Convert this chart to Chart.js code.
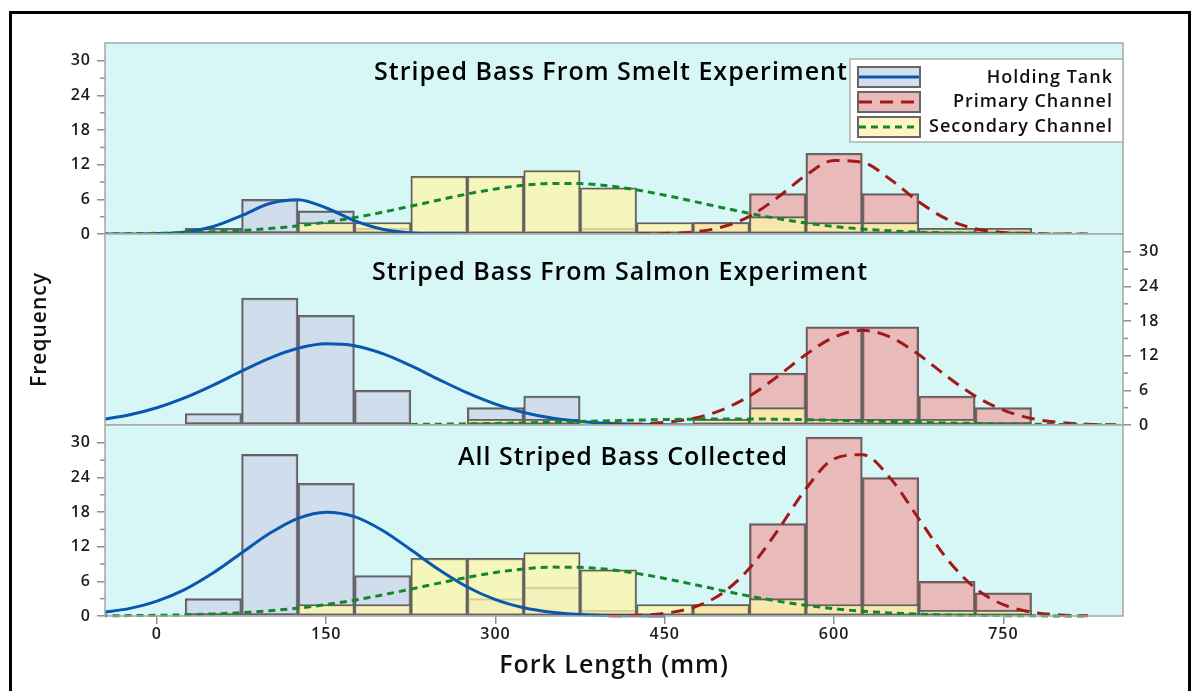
<!DOCTYPE html>
<html lang="en">
<head>
<meta charset="UTF-8">
<title>Striped Bass Fork Length</title>
<script src="https://cdn.jsdelivr.net/npm/chart.js"></script>
<style>
  body { margin: 0; background: #fff; width: 1200px; height: 691px; overflow: hidden; position: relative; }
  .frame { position: absolute; left: 9px; top: 11px; width: 1176px; height: 720px; border: 3px solid #000; border-bottom: none; }
  .panel { position: absolute; left: 0; }
</style>
</head>
<body>
<div class="frame"></div>
<canvas id="smeltChart" class="panel" width="1200" height="221" style="top:23px"></canvas>
<canvas id="salmonChart" class="panel" width="1200" height="211" style="top:224px"></canvas>
<canvas id="allChart" class="panel" width="1200" height="276" style="top:415px"></canvas>
<script>
// histogram bins (mm), 50 mm wide
var binCenters = [50, 100, 150, 200, 250, 300, 350, 400, 450, 500, 550, 600, 650, 700, 750];

var smeltHolding   = [1, 6, 4, 1, 0, 0, 0, 0, 0, 0, 0, 0, 0, 0, 0];
var smeltPrimary   = [0, 0, 0, 0, 0, 0, 0, 1, 0, 2, 7, 14, 7, 1, 1];
var smeltSecondary = [0, 0, 2, 2, 10, 10, 11, 8, 2, 2, 3, 2, 2, 1, 1];

var salmonHolding   = [2, 22, 19, 6, 0, 3, 5, 0, 0, 0, 0, 0, 0, 0, 0];
var salmonPrimary   = [0, 0, 0, 0, 0, 0, 0, 0, 0, 0, 9, 17, 17, 5, 3];
var salmonSecondary = [0, 0, 0, 0, 0, 1, 1, 0, 0, 1, 3, 1, 1, 1, 0];

var allHolding   = [3, 28, 23, 7, 0, 3, 5, 0, 0, 0, 0, 0, 0, 0, 0];
var allPrimary   = [0, 0, 0, 0, 0, 0, 0, 1, 0, 2, 16, 31, 24, 6, 4];
var allSecondary = [0, 0, 2, 2, 10, 10, 11, 8, 2, 2, 3, 2, 2, 1, 1];

// fitted curves, every 25 mm
var curveX = [-50, -25, 0, 25, 50, 75, 100, 125, 150, 175, 200, 225, 250, 275, 300, 325, 350, 375, 400,
              425, 450, 475, 500, 525, 550, 575, 600, 625, 650, 675, 700, 725, 750, 775, 800, 825, 850];

var smeltHoldingFit = [0, 0.01, 0.07, 0.36, 1.29, 3.18, 5.28, 5.93, 4.51, 2.32, 0.81, 0.19, 0.03, 0,
  null, null, null, null, null, null, null, null, null, null, null, null, null, null, null, null, null, null, null, null, null, null, null];
var smeltPrimaryFit = [null, null, null, null, null, null, null, null, null, null, null, null, null, null, null, null, null, null, null,
  0.01, 0.08, 0.34, 1.16, 3.06, 6.33, 10.18, 12.74, 12.43, 9.44, 5.58, 2.57, 0.92, 0.26, 0.06, 0.01, 0, null];
var smeltSecondaryFit = [0.03, 0.07, 0.12, 0.22, 0.37, 0.60, 0.94, 1.42, 2.05, 2.84, 3.78, 4.82, 5.90, 6.93, 7.81, 8.45, 8.77, 8.73, 8.35,
  7.65, 6.73, 5.68, 4.60, 3.58, 2.67, 1.91, 1.31, 0.86, 0.55, 0.33, 0.19, 0.11, 0.06, 0.03, 0.01, 0, null];

var salmonHoldingFit = [0.93, 1.74, 2.99, 4.74, 6.92, 9.33, 11.6, 13.3, 14.08, 13.74, 12.37, 10.28, 7.87, 5.56, 3.63, 2.18, 1.21, 0.62, 0.29,
  0.13, 0.05, 0, null, null, null, null, null, null, null, null, null, null, null, null, null, null, null];
var salmonPrimaryFit = [null, null, null, null, null, null, null, null, null, null, null, null, null, null, null, null, null, null, 0.04,
  0.14, 0.44, 1.14, 2.58, 5.02, 8.43, 12.2, 15.23, 16.4, 15.23, 12.2, 8.43, 5.02, 2.58, 1.14, 0.44, 0.14, 0.04];
var salmonSecondaryFit = [null, null, null, null, null, null, null, null, null, null, null, 0.1, 0.14, 0.2, 0.28, 0.38, 0.49, 0.61, 0.73,
  0.85, 0.94, 1.01, 1.05, 1.04, 1.0, 0.93, 0.83, 0.71, 0.59, 0.47, 0.36, 0.27, 0.19, 0.13, 0.09, 0.05, 0.03];

var allHoldingFit = [0.58, 1.28, 2.57, 4.62, 7.48, 10.92, 14.33, 16.93, 17.99, 17.22, 14.82, 11.48, 8.01, 5.03, 2.84, 1.44, 0.66, 0.27, 0.10,
  0.03, 0, null, null, null, null, null, null, null, null, null, null, null, null, null, null, null, null];
var allPrimaryFit = [null, null, null, null, null, null, null, null, null, null, null, null, null, null, null, null, null, null, 0.03,
  0.12, 0.47, 1.47, 3.83, 8.26, 14.81, 22.04, 27.24, 27.96, 23.83, 16.87, 9.92, 4.85, 1.96, 0.66, 0.18, 0.04, null];
var allSecondaryFit = [0.03, 0.07, 0.12, 0.21, 0.36, 0.58, 0.91, 1.37, 1.98, 2.74, 3.65, 4.66, 5.70, 6.69, 7.54, 8.16, 8.47, 8.43, 8.07,
  7.39, 6.50, 5.49, 4.44, 3.46, 2.58, 1.85, 1.27, 0.83, 0.53, 0.32, 0.18, 0.11, 0.06, 0.03, 0.01, 0, null];

var xTickValues = [0, 150, 300, 450, 600, 750];
var yTickValues = [0, 6, 12, 18, 24, 30];
var yMinorTicks = [3, 9, 15, 21, 27];

var seriesNames = ['Holding Tank', 'Primary Channel', 'Secondary Channel'];
var panelTitles = ['Striped Bass From Smelt Experiment', 'Striped Bass From Salmon Experiment', 'All Striped Bass Collected'];
var xTitle = 'Fork Length (mm)';
var yTitle = 'Frequency';

// look
var plotBg = '#D7F7F7';
var barFill = ['rgba(200,196,228,0.5)', 'rgba(252,126,126,0.5)', 'rgba(255,246,168,0.75)'];
var swatchFill = ['#D0DEEE', '#EABABA', '#FFF5C2'];
var lineColor = ['#0A57AF', '#A11A1A', '#13872C'];
var lineDash = [[], [13, 8], [7, 5]];
var fontFamily = '"Open Sans", "Noto Sans", sans-serif';

var panelPlugin = {
  id: 'panel',
  beforeDraw: function (chart) {
    var ctx = chart.ctx, a = chart.chartArea;
    ctx.save();
    ctx.fillStyle = plotBg;
    ctx.fillRect(a.left, a.top, a.right - a.left, a.bottom - a.top);
    ctx.restore();
    ctx.letterSpacing = '1px';
  },
  afterDraw: function (chart, args, o) {
    var ctx = chart.ctx, a = chart.chartArea, ys = chart.scales.y;
    ctx.save();
    ctx.letterSpacing = '1px';

    // minor y ticks
    ctx.strokeStyle = '#8f8f8f';
    ctx.lineWidth = 1.5;
    yMinorTicks.forEach(function (v) {
      var py = ys.getPixelForValue(v);
      ctx.beginPath();
      if (ys.position === 'left') { ctx.moveTo(a.left - 5, py); ctx.lineTo(a.left, py); }
      else { ctx.moveTo(a.right, py); ctx.lineTo(a.right + 5, py); }
      ctx.stroke();
    });

    // plot frame
    ctx.strokeStyle = '#a6a6a6';
    ctx.lineWidth = 1.5;
    ctx.strokeRect(a.left, a.top, a.right - a.left, a.bottom - a.top);

    // panel title
    ctx.fillStyle = '#000';
    ctx.font = '600 25px ' + fontFamily;
    ctx.textAlign = 'center';
    ctx.textBaseline = 'alphabetic';
    ctx.fillText(o.title, o.titleX, a.top + o.titleDy);

    if (o.legend) {
      var bx = a.right - 273, by = a.top + 16;
      ctx.fillStyle = '#fff';
      ctx.fillRect(bx, by, 273, 83);
      ctx.strokeStyle = '#b0b0b0';
      ctx.lineWidth = 1.5;
      ctx.strokeRect(bx, by, 273, 83);
      seriesNames.forEach(function (name, k) {
        var sy = a.top + 24 + k * 25;
        ctx.fillStyle = swatchFill[k];
        ctx.fillRect(bx + 8, sy, 62, 20);
        ctx.strokeStyle = '#666';
        ctx.lineWidth = 2;
        ctx.strokeRect(bx + 8, sy, 62, 20);
        ctx.strokeStyle = lineColor[k];
        ctx.lineWidth = 3;
        ctx.setLineDash(lineDash[k]);
        ctx.beginPath();
        ctx.moveTo(bx + 9, sy + 10);
        ctx.lineTo(bx + 69, sy + 10);
        ctx.stroke();
        ctx.setLineDash([]);
        ctx.fillStyle = '#111';
        ctx.font = '600 18px ' + fontFamily;
        ctx.textAlign = 'right';
        ctx.fillText(name, a.right - 10, a.top + 39.5 + k * 24.5);
      });
    }
    ctx.restore();
  }
};

function buildChart(id, counts, fits, panel) {
  var datasets = [];
  counts.forEach(function (arr, k) {
    datasets.push({
      type: 'bar',
      data: binCenters.map(function (c, i) { return { x: c, y: arr[i] > 0 ? arr[i] : null }; }),
      backgroundColor: barFill[k],
      borderColor: '#616161',
      borderWidth: 1.8,
      borderSkipped: false,
      grouped: false,
      barPercentage: 1,
      categoryPercentage: 1,
      order: 5 - k
    });
  });
  fits.forEach(function (arr, k) {
    datasets.push({
      type: 'line',
      data: curveX.map(function (x, i) { return { x: x, y: arr[i] }; }),
      borderColor: lineColor[k],
      borderWidth: 3,
      borderDash: lineDash[k],
      pointRadius: 0,
      fill: false,
      cubicInterpolationMode: 'monotone',
      spanGaps: false,
      clip: { left: 0, top: 0, right: 0, bottom: 3 },
      order: 2 - k
    });
  });

  var tickFont = { family: fontFamily, size: 16, weight: '600' };
  var scales = {
    x: {
      type: 'linear', min: -46, max: 856, offset: false,
      display: panel.showX,
      afterBuildTicks: function (s) { s.ticks = xTickValues.map(function (v) { return { value: v }; }); },
      grid: { drawOnChartArea: false, offset: false, tickLength: 8, color: '#8f8f8f', lineWidth: 1.5 },
      border: { display: false },
      ticks: { color: '#1b1b1b', font: tickFont, padding: 1, maxRotation: 0 },
      title: { display: panel.showX, text: xTitle, color: '#111', font: { family: fontFamily, size: 25, weight: '600' }, padding: { top: 0, bottom: 10 } },
      afterFit: function (s) { s.height = panel.showX ? 75 : 0; s.paddingLeft = 0; s.paddingRight = 0; }
    },
    y: {
      type: 'linear', position: panel.yPos, min: 0, max: 33.1,
      afterBuildTicks: function (s) { s.ticks = yTickValues.map(function (v) { return { value: v }; }); },
      grid: { drawOnChartArea: false, offset: false, tickLength: 8, color: '#8f8f8f', lineWidth: 1.5 },
      border: { display: false },
      ticks: { color: '#1b1b1b', font: tickFont, padding: panel.yPos === 'left' ? 6 : 8, autoSkip: false },
      afterFit: function (s) { s.width = panel.yPos === 'left' ? 105 : 77; s.paddingTop = 0; s.paddingBottom = 0; }
    }
  };
  if (panel.yTitle) {
    scales.yl = {
      type: 'linear', position: 'left', min: 0, max: 1,
      grid: { display: false },
      border: { display: false },
      ticks: { display: false },
      title: { display: true, text: yTitle, color: '#111', font: { family: fontFamily, size: 21, weight: '600' }, padding: { top: 27, bottom: 0 } },
      afterFit: function (s) { s.width = 105; s.paddingTop = 0; s.paddingBottom = 0; }
    };
  }

  return new Chart(document.getElementById(id), {
    type: 'bar',
    data: { datasets: datasets },
    options: {
      responsive: false,
      animation: false,
      devicePixelRatio: 1,
      layout: { padding: panel.padding },
      scales: scales,
      plugins: {
        legend: { display: false },
        tooltip: { enabled: false },
        panel: { title: panel.title, titleX: panel.titleX, titleDy: panel.titleDy, legend: panel.legend }
      }
    },
    plugins: [panelPlugin]
  });
}

buildChart('smeltChart', [smeltHolding, smeltPrimary, smeltSecondary],
  [smeltHoldingFit, smeltPrimaryFit, smeltSecondaryFit],
  { showX: false, yPos: 'left', padding: { top: 20, bottom: 10, left: 0, right: 77 },
    title: panelTitles[0], titleX: 611, titleDy: 36.5, legend: true });

buildChart('salmonChart', [salmonHolding, salmonPrimary, salmonSecondary],
  [salmonHoldingFit, salmonPrimaryFit, salmonSecondaryFit],
  { showX: false, yPos: 'right', yTitle: true, padding: { top: 10, bottom: 10, left: 0, right: 0 },
    title: panelTitles[1], titleX: 620, titleDy: 45.5, legend: false });

buildChart('allChart', [allHolding, allPrimary, allSecondary],
  [allHoldingFit, allPrimaryFit, allSecondaryFit],
  { showX: true, yPos: 'left', padding: { top: 10, bottom: 0, left: 0, right: 77 },
    title: panelTitles[2], titleX: 623, titleDy: 39.5, legend: false });
</script>
</body>
</html>
